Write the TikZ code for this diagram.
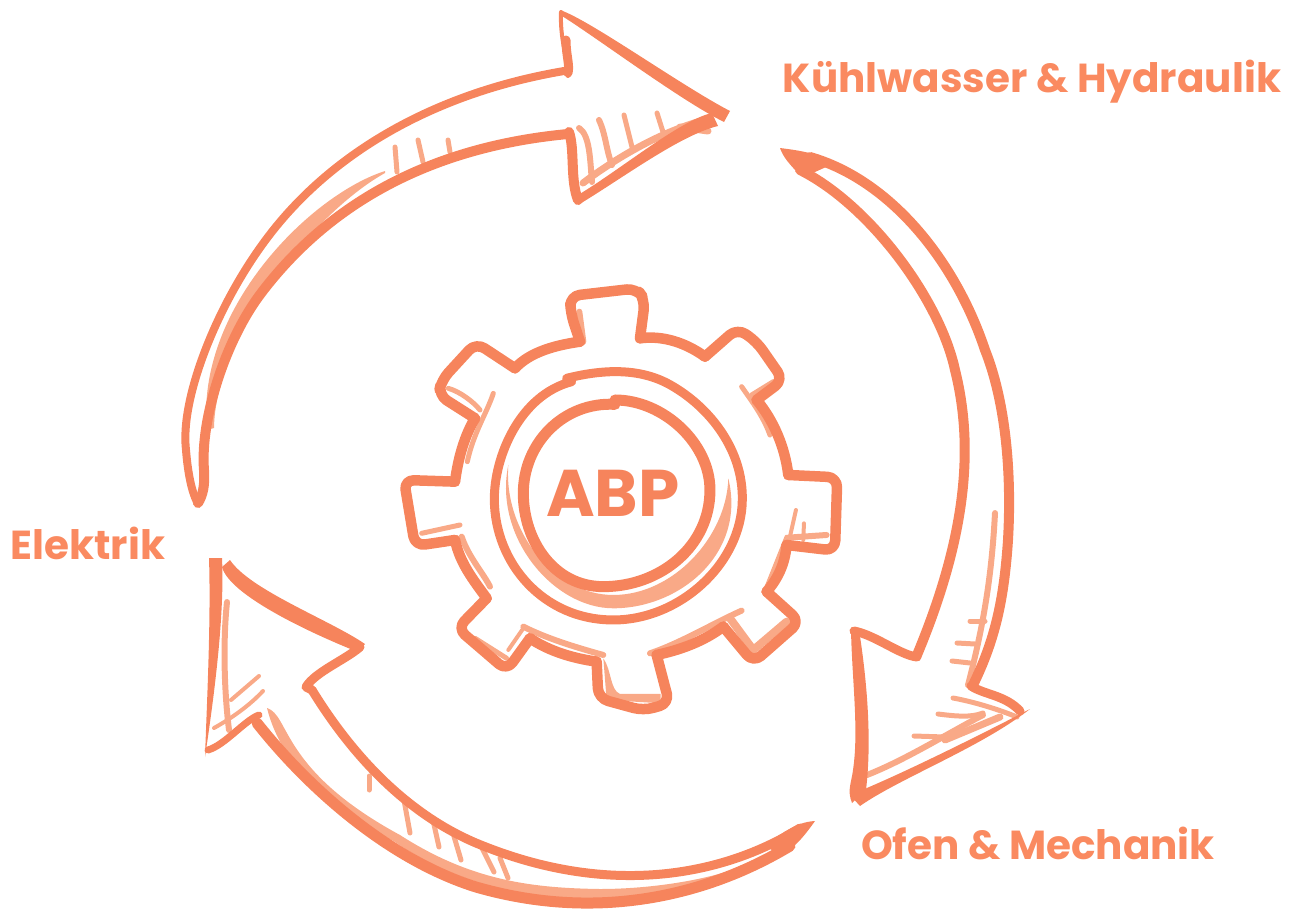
\documentclass[tikz,border=0pt]{standalone}
\usepackage{fontspec}
\setmainfont{Poppins}
\definecolor{sketchmain}{HTML}{F6845C}
\definecolor{sketchpale}{HTML}{F9A987}
\definecolor{labeltext}{HTML}{FA8A60}
\tikzset{
  line/.style={draw=sketchmain,line width=#1,line cap=round,line join=round},
  line/.default=8pt,
  pale/.style={draw=sketchpale,line width=#1,line cap=round,line join=round},
  pale/.default=5pt,
  wedge/.style={fill=sketchmain},
  palewedge/.style={fill=sketchpale},
  tooth/.style={line=10.5pt,rounded corners=10pt},
  caption/.style={text=labeltext,font=\bfseries\fontsize{40.5}{44}\selectfont,inner sep=0pt,anchor=center},
  zoomed/.style={shift={(380pt,-270pt)},x=0.3333pt,y=-0.3333pt}
}
\begin{document}
\begin{tikzpicture}[x=1pt,y=-1pt]
  \useasboundingbox (0,0) rectangle (1293,908);

  % top left arrow
  \fill[palewedge] (385,171) .. controls (310,195) and (195,310) .. (207,430) -- (214,428) .. controls (215,340) and (310,215) .. (385,173) -- cycle;
  \draw[pale] (395,147) -- (397,172);
  \draw[pale] (418,140) -- (423,162);
  \draw[pale] (448,140) -- (450,152);
  \draw[pale=6pt] (579,128) .. controls (590,135) and (590,160) .. (592,182);
  \draw[pale=6pt] (599,120) .. controls (606,135) and (606,150) .. (612,165);
  \draw[pale] (624,115) -- (632,147);
  \draw[pale] (657,113) -- (663,132);
  \draw[pale=7pt] (583,183) .. controls (620,155) and (665,130) .. (708,119);
  \draw[pale=7pt] (680,127) -- (708,131);
  \draw[line=8pt] (564,71) .. controls (440,92) and (330,150) .. (262,245) .. controls (215,310) and (180,400) .. (186,450) .. controls (188,475) and (192,492) .. (197,502);
  \draw[line=10pt] (568,134) .. controls (450,145) and (340,190) .. (262,292) .. controls (225,340) and (200,420) .. (204,470) .. controls (205,485) and (203,495) .. (198,503);
  \draw[line=4pt] (568,76) .. controls (567,55) and (560,40) .. (561,12);
  \draw[line=9pt] (568,73) .. controls (570,65) and (566,55) .. (566,40);
  \fill[wedge] (560,10) .. controls (590,20) and (680,85) .. (730,111) -- (724,122) .. controls (680,100) and (600,40) .. (562,16) -- cycle;
  \fill[wedge] (578,205) .. controls (620,180) and (680,135) .. (718,126) -- (712,113) .. controls (680,120) and (620,170) .. (578,195) -- cycle;
  \draw[line=10pt] (569,132) .. controls (575,150) and (570,180) .. (578,200);

  % right arrow
  \draw[pale=6pt] (995,513) .. controls (992,570) and (985,620) .. (968,685);
  \draw[pale] (970,621) -- (985,621);
  \draw[pale] (957,643) -- (975,644);
  \draw[pale] (952,661) -- (970,663);
  \draw[pale] (953,698) .. controls (975,702) and (1000,710) .. (1017,717);
  \draw[pale] (938,714) .. controls (955,716) and (970,718) .. (983,713);
  \draw[pale] (914,736) -- (945,737);
  \draw[pale=6pt] (867,775) .. controls (905,760) and (945,735) .. (983,715);
  \draw[pale=7pt] (945,740) -- (1000,717);
  \fill[wedge] (780,148) .. controls (795,150) and (815,152) .. (835,163) -- (815,172) -- (800,175) .. controls (790,165) and (783,157) .. (780,148) -- cycle;
  \draw[line=10pt] (810,157) .. controls (890,180) and (955,260) .. (985,350) .. controls (1005,400) and (1012,470) .. (1008,540) .. controls (1004,600) and (995,640) .. (973,685);
  \draw[line=10pt] (800,170) .. controls (870,205) and (940,300) .. (955,370) .. controls (975,450) and (965,540) .. (917,655);
  \draw[line=9pt] (917,657) .. controls (900,655) and (875,635) .. (854,631);
  \fill[wedge] (851,630) .. controls (852,680) and (859,730) .. (853,770) .. controls (851,785) and (847,790) .. (852,803) -- (866,790) .. controls (872,740) and (867,680) .. (859,630) -- cycle;
  \fill[wedge] (850,795) .. controls (900,775) and (980,735) .. (1030,709) .. controls (980,748) and (900,778) .. (860,806) -- cycle;
  \draw[line=9pt] (971,686) .. controls (985,695) and (1005,695) .. (1020,711);

  % bottom arrow
  \fill[palewedge] (267,708) .. controls (290,715) and (280,770) .. (400,835) .. controls (470,880) and (530,888) .. (600,889) .. controls (650,889) and (710,880) .. (745,865) .. controls (710,890) and (660,900) .. (600,900) .. controls (520,900) and (450,880) .. (395,842) .. controls (320,800) and (280,760) .. (267,708) -- cycle;
  \draw[pale] (404,800) -- (410,833);
  \draw[pale] (433,820) -- (439,847);
  \draw[pale] (453,833) -- (461,860);
  \draw[pale] (482,848) -- (494,872);
  \draw[pale] (500,858) -- (508,878);
  \draw[pale=5pt] (369,776) -- (369,790);
  \draw[pale=6pt] (227,602) .. controls (223,640) and (224,690) .. (229,730);
  \draw[pale=4pt] (259,676) -- (231,700);
  \draw[pale=4pt] (263,691) .. controls (250,705) and (232,718) .. (214,728);
  \draw[line=11pt] (790,846) .. controls (700,900) and (590,920) .. (476,887) .. controls (390,860) and (310,790) .. (257,723);
  \draw[line=9pt] (800,828) .. controls (740,866) and (625,905) .. (476,843) .. controls (410,815) and (355,760) .. (312,690);
  \fill[wedge] (815,821) .. controls (795,822) and (780,835) .. (765,845) -- (780,856) .. controls (795,848) and (805,835) .. (815,821) -- cycle;
  \draw[line=9pt] (312,690) -- (306,687) .. controls (315,672) and (345,660) .. (360,647);
  \fill[wedge] (365,644) .. controls (330,620) and (250,590) .. (230,560) -- (222,567) .. controls (230,597) and (320,637) .. (358,652) -- cycle;
  \fill[wedge] (209,558) .. controls (211,620) and (207,700) .. (205,757) .. controls (212,710) and (225,620) .. (222,558) -- cycle;
  \draw[line=7pt] (208,750) .. controls (225,745) and (245,720) .. (259,715);

  % gear
  \begin{scope}[zoomed]
    \draw[pale=6pt] (598,125) -- (610,215);
    \draw[pale=5pt] (205,355) .. controls (240,365) and (280,395) .. (300,420);
    \draw[pale=5pt] (340,370) .. controls (320,430) and (280,490) .. (262,575);
    \draw[pale=5pt] (1085,350) .. controls (1120,400) and (1150,440) .. (1170,495);
    \draw[pale=5pt] (1115,375) -- (1180,335);
    \draw[pale=4pt] (1248,720) -- (1230,800);
    \draw[pale=4pt] (1272,760) -- (1270,810);
    \draw[pale=6pt] (1225,803) -- (1340,795);
    \draw[pale=4pt] (1220,800) -- (1160,950);
    \draw[pale=5pt] (125,790) -- (240,765);
    \draw[pale=6pt] (245,800) .. controls (265,860) and (310,910) .. (330,950);
    \draw[pale=5pt] (285,1105) -- (380,1165);
    \draw[pale=6pt] (430,1070) .. controls (500,1105) and (580,1130) .. (670,1155);
    \draw[pale=4pt] (430,1075) -- (385,1140);
    \fill[palewedge] (670,1165) .. controls (695,1200) and (690,1260) .. (720,1272) -- (842,1272) -- (842,1300) -- (680,1290) -- cycle;
    \draw[pale=6pt] (810,1150) .. controls (900,1120) and (1000,1060) .. (1085,1022);
    \draw[pale=8pt] (1050,1045) -- (1120,1140) -- (1220,1055);
    \fill[palewedge] (385,585) .. controls (340,800) and (520,1015) .. (700,1015) .. controls (900,1015) and (1100,850) .. (1045,625) .. controls (1040,800) and (880,975) .. (700,975) .. controls (520,975) and (370,780) .. (385,585) -- cycle;
    \draw[tooth] (600,215) -- (572,130) -- (570,78) -- (770,55) -- (795,90) -- (780,205);
    \draw[tooth] (975,260) -- (1072,175) -- (1130,215) -- (1210,330) -- (1130,390);
    \draw[tooth] (1225,615) -- (1372,622) -- (1365,842) -- (1220,825);
    \draw[tooth] (1160,965) -- (1260,1055) -- (1120,1178) -- (1030,1070);
    \draw[tooth] (830,1155) -- (868,1300) -- (790,1322) -- (655,1285) -- (650,1175);
    \draw[tooth] (450,1105) -- (380,1202) -- (232,1075) -- (320,985);
    \draw[tooth] (225,810) -- (105,828) -- (72,630) -- (225,635);
    \draw[tooth] (285,445) -- (175,375) -- (185,330) -- (288,218) -- (405,295);
    \draw[line=10.5pt] (780,205) .. controls (850,195) and (920,220) .. (975,260);
    \draw[line=10.5pt] (1130,390) .. controls (1180,450) and (1215,530) .. (1225,615);
    \draw[line=10.5pt] (1220,825) .. controls (1215,880) and (1195,925) .. (1160,965);
    \draw[line=10.5pt] (1030,1070) .. controls (970,1115) and (900,1140) .. (830,1155);
    \draw[line=10.5pt] (650,1175) .. controls (580,1165) and (510,1145) .. (450,1105);
    \draw[line=10.5pt] (320,985) .. controls (280,930) and (240,880) .. (225,810);
    \draw[line=10.5pt] (225,635) .. controls (235,560) and (255,495) .. (285,445);
    \draw[line=10.5pt] (405,295) .. controls (450,245) and (530,225) .. (600,215);
    \draw[line=9pt] (560,325) .. controls (680,295) and (790,295) .. (880,350) .. controls (990,415) and (1090,540) .. (1087,690) .. controls (1085,880) and (900,1050) .. (700,1050) .. controls (490,1050) and (345,880) .. (343,690) .. controls (342,560) and (420,375) .. (575,335);
    \draw[line=11pt] (705,390) .. controls (850,390) and (990,520) .. (990,660) .. controls (990,830) and (840,950) .. (670,950) .. controls (520,950) and (430,810) .. (430,670) .. controls (430,520) and (550,395) .. (705,403);
  \end{scope}

  \node[text=sketchmain,font=\bfseries\fontsize{66}{68}\selectfont,inner sep=0pt] (abp) at (613,493) {ABP};
  \node[caption] (kuehlwasser) at (1032,82) {Kühlwasser \& Hydraulik};
  \node[caption] (elektrik) at (88,543) {Elektrik};
  \node[caption] (ofen) at (1038,843) {Ofen \& Mechanik};
\end{tikzpicture}
\end{document}
